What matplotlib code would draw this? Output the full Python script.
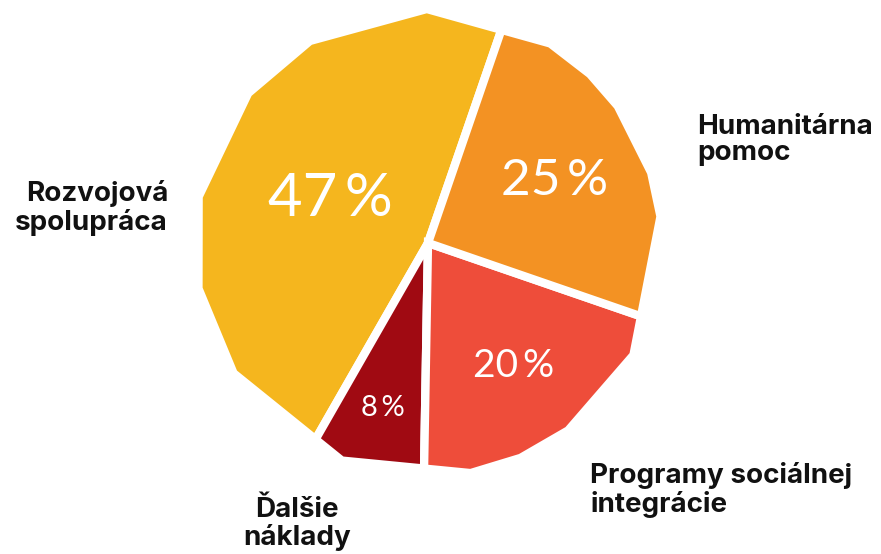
import numpy as np
import matplotlib.pyplot as plt
from matplotlib.patches import Polygon

# data
categories = ['Rozvojová\nspolupráca', 'Ďalšie\nnáklady',
              'Programy sociálnej\nintegrácie', 'Humanitárna\npomoc']
values = [47, 8, 20, 25]
pct_labels = ['47\u2009%', '8\u2009%', '20\u2009%', '25\u2009%']
colors = ['#F5B61E', '#A00A12', '#EE4D3A', '#F39223']

# the pie is drawn as a rough polygon, not a circle (vertex angles in degrees)
outline_deg = [6.5, 17.5, 35.8, 46.2, 58.5, 90.3, 120.3, 140.2, 168.6,
               191.2, 213.8, 248.4, 280.5, 293.3, 306.8, 331.4]
cx, cy, R = 428, 243, 234
start_angle = 71

# layout for the text
pct_radius = [0.46, 0.73, 0.64, 0.6]
pct_size = [43, 21, 28, 37]
label_pos = [(168, 208, 'right'), (297, 524, 'center'),
             (590, 490, 'left'), (697, 140, 'left')]


def polar(a, r=R):
    t = np.radians(a)
    return np.array([r * np.cos(t), r * np.sin(t)])


def outline_point(a):
    # where a ray from the centre at angle a hits the polygon outline
    a = a % 360
    vs = outline_deg + [outline_deg[0] + 360]
    for i in range(len(vs) - 1):
        lo, hi = vs[i], vs[i + 1]
        aa = a if a >= lo else a + 360
        if lo <= aa < hi:
            p1, p2 = polar(lo), polar(hi)
            d = polar(a, 1)
            e = p2 - p1
            s = (d[0] * p1[1] - d[1] * p1[0]) / (d[1] * e[0] - d[0] * e[1])
            return p1 + s * e
    return polar(a)


def to_px(p):
    return (cx + p[0], cy - p[1])


fig = plt.figure(figsize=(8.81, 5.54), dpi=100)
ax = fig.add_axes([0, 0, 1, 1])
ax.set_xlim(0, 881)
ax.set_ylim(554, 0)
ax.axis('off')

a0 = start_angle
for i, v in enumerate(values):
    a1 = a0 + v / sum(values) * 360
    pts = [(cx, cy), to_px(outline_point(a0))]
    for vd in sorted(outline_deg + [d + 360 for d in outline_deg]):
        if a0 < vd < a1:
            pts.append(to_px(polar(vd)))
    pts.append(to_px(outline_point(a1)))
    ax.add_patch(Polygon(pts, closed=True, facecolor=colors[i],
                         edgecolor='white', linewidth=6, joinstyle='miter'))

    mid = (a0 + a1) / 2
    tx, ty = to_px(polar(mid, R * pct_radius[i]))
    ax.text(tx, ty, pct_labels[i], color='white', fontsize=pct_size[i],
            family=['Lato', 'DejaVu Sans'], ha='center', va='center')

    lx, ly, ha = label_pos[i]
    ax.text(lx, ly, categories[i], fontsize=20, family='Inter', weight='bold',
            color='#111111', ha=ha, va='center', linespacing=1.05,
            multialignment=ha)
    a0 = a1

fig.savefig('out.png', dpi=100)
